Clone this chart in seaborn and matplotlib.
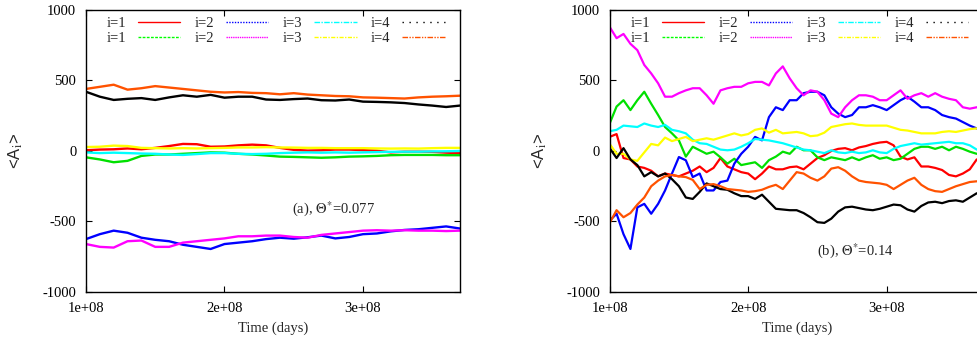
import numpy as np
import pandas as pd
import matplotlib
matplotlib.use("Agg")
import matplotlib.pyplot as plt
from matplotlib.lines import Line2D
import seaborn as sns

# ---------------- data ----------------
# time in units of 1e8 days
t_left = [1.0, 1.1, 1.2, 1.3, 1.4, 1.5, 1.6, 1.7, 1.8, 1.9, 2.0, 2.1, 2.2, 2.3,
          2.4, 2.5, 2.6, 2.7, 2.8, 2.9, 3.0, 3.1, 3.2, 3.3, 3.4, 3.5, 3.6, 3.7]

a_red = [5, 10, 12, 18, 12, 22, 35, 50, 48, 30, 32, 40, 45, 40,
         22, 8, 3, 5, 10, 10, 6, 2, -10, -5, -5, -6, -12, -15]
a_green = [-45, -60, -80, -70, -35, -25, -25, -20, -15, -10, -12, -20, -25, -32,
           -40, -42, -45, -48, -45, -40, -38, -35, -30, -28, -28, -28, -30, -30]
a_blue = [-625, -590, -565, -580, -615, -630, -640, -665, -680, -695, -660, -650, -640, -625,
          -615, -622, -612, -600, -620, -610, -590, -585, -570, -560, -555, -545, -535, -550]
a_magenta = [-660, -680, -685, -640, -635, -680, -680, -650, -640, -630, -620, -605, -605, -600,
             -600, -610, -615, -595, -585, -575, -565, -562, -565, -562, -565, -565, -568, -565]
a_cyan = [-10, -15, -12, -15, -18, -20, -25, -28, -22, -15, -15, -20, -22, -20,
          -15, -12, -10, -12, -10, -12, -10, -8, -6, -5, -5, -3, -2, 0]
a_yellow = [28, 30, 38, 35, 22, 20, 18, 20, 18, 20, 22, 25, 25, 27,
            25, 24, 22, 22, 20, 20, 20, 18, 17, 18, 17, 20, 22, 22]
a_black = [420, 385, 362, 370, 375, 362, 380, 395, 385, 398, 378, 385, 385, 365,
           362, 368, 372, 360, 358, 365, 350, 348, 345, 340, 330, 322, 312, 322]
a_orange = [440, 455, 470, 435, 445, 460, 450, 440, 430, 420, 415, 418, 412, 410,
            402, 410, 400, 395, 390, 388, 380, 378, 375, 372, 380, 385, 388, 392]

t_right = [1.00, 1.05, 1.10, 1.15, 1.20, 1.25, 1.30, 1.35, 1.40, 1.45, 1.50, 1.55, 1.60, 1.65,
           1.70, 1.75, 1.80, 1.85, 1.90, 1.95, 2.00, 2.05, 2.10, 2.15, 2.20, 2.25, 2.30, 2.35,
           2.40, 2.45, 2.50, 2.55, 2.60, 2.65, 2.70, 2.75, 2.80, 2.85, 2.90, 2.95, 3.00, 3.05,
           3.10, 3.15, 3.20, 3.25, 3.30, 3.35, 3.40, 3.45, 3.50, 3.55, 3.60, 3.65, 3.70]

b_red = [100, 120, -50, -60, -110, -120, -140, -180, -160, -170, -180, -160, -140, -110,
         -150, -120, -50, -110, -130, -150, -160, -200, -160, -110, -130, -130, -115, -110,
         -130, -90, -50, -30, 0, 15, 20, 5, 25, 35, 50, 60, 65, 40,
         -40, -60, -45, -110, -110, -120, -135, -170, -180, -160, -130, -60, -70]
b_green = [195, 315, 360, 290, 360, 420, 335, 255, 170, 125, 75, -40, 30, 5,
           -20, -5, -45, -90, -55, -100, -90, -80, -120, -65, -40, -5, -20, 30,
           5, 5, -45, -65, -45, -55, -65, -45, -65, -45, -30, -55, -45, -65,
           -55, -20, 15, 30, 30, 15, 30, 5, 30, 15, -5, -20, -10]
b_blue = [-495, -445, -590, -695, -400, -375, -445, -375, -280, -160, -43, -66, -185, -160,
          -280, -280, -220, -210, -90, -20, 30, 100, 75, 240, 310, 290, 360, 360,
          410, 420, 420, 395, 310, 265, 240, 255, 310, 310, 325, 310, 290, 325,
          360, 385, 350, 310, 310, 290, 255, 240, 230, 205, 180, 160, 170]
b_magenta = [880, 800, 830, 760, 715, 610, 550, 480, 385, 385, 410, 430, 445, 445,
             395, 335, 430, 445, 455, 455, 480, 490, 490, 465, 550, 600, 515, 445,
             395, 430, 420, 360, 265, 240, 310, 360, 395, 395, 385, 360, 360, 395,
             430, 370, 395, 410, 385, 410, 385, 370, 360, 310, 300, 310, 310]
b_cyan = [140, 150, 180, 175, 170, 195, 180, 170, 185, 150, 140, 125, 80, 55,
          50, 30, 10, 5, 10, 30, 55, 85, 80, 75, 65, 55, 40, 25,
          10, 5, -5, -15, 5, -10, -15, -5, -15, -10, 5, -10, -15, 15,
          35, 45, 55, 45, 50, 55, 60, 65, 55, 55, 40, 10, 5]
b_yellow = [50, -20, -20, -60, -70, -10, 50, 40, 95, 70, 85, 100, 70, 80,
            90, 80, 95, 110, 125, 110, 120, 150, 160, 130, 150, 125, 130, 135,
            125, 105, 110, 130, 170, 180, 190, 195, 185, 180, 180, 180, 180, 165,
            150, 145, 135, 125, 125, 125, 135, 140, 135, 145, 155, 160, 150]
b_black = [20, -50, 20, -60, -100, -180, -150, -180, -160, -200, -250, -330, -340, -290,
           -230, -250, -270, -275, -300, -320, -320, -340, -310, -360, -410, -415, -420, -420,
           -440, -470, -505, -510, -480, -430, -400, -395, -405, -415, -420, -410, -395, -380,
           -385, -415, -430, -390, -365, -360, -370, -355, -350, -360, -330, -300, -300]
b_orange = [-510, -420, -470, -440, -380, -330, -250, -210, -180, -170, -180, -185, -205, -270,
            -240, -235, -250, -270, -275, -280, -290, -285, -275, -255, -240, -270, -210, -150,
            -160, -190, -210, -180, -125, -115, -140, -180, -210, -220, -225, -230, -240, -270,
            -240, -210, -190, -240, -270, -285, -290, -270, -250, -235, -220, -215, -215]

series_names = ["s1", "s2", "s3", "s4", "s5", "s6", "s7", "s8"]
legend_labels = ["i=1", "i=1", "i=2", "i=2", "i=3", "i=3", "i=4", "i=4"]
colors = ["#ff0000", "#00e000", "#0000ff", "#ff00ff", "#00ffff", "#ffff00", "#000000", "#ff5200"]
legend_colors = ["#ff0000", "#00ff00", "#0000ff", "#ff00ff", "#00ffff", "#ffff00", "#000000", "#ff5200"]
styles = ["-", (0, (2, 1)), (0, (1, 1)), (0, (1, 0.6)), (0, (4, 1, 1, 1)),
          (0, (3, 1, 1, 1)), (0, (1, 4)), (0, (4, 1, 1, 1, 1, 1))]

x_ticks = [1e8, 2e8, 3e8]
x_tick_labels = ["1e+08", "2e+08", "3e+08"]
y_ticks = [-1000, -500, 0, 500, 1000]
y_tick_labels = ["-1000", "-500", "0", "500", "1000"]
annot_a = r"(a), $\Theta^{*}$=0.077"
annot_b = r"(b), $\Theta^{*}$=0.14"

left_vals = [a_red, a_green, a_blue, a_magenta, a_cyan, a_yellow, a_black, a_orange]
right_vals = [b_red, b_green, b_blue, b_magenta, b_cyan, b_yellow, b_black, b_orange]


def to_frame(times, vals):
    rows = []
    for name, v in zip(series_names, vals):
        for t, y in zip(times, v):
            rows.append((t * 1e8, y, name))
    return pd.DataFrame(rows, columns=["time", "value", "series"])


df_left = to_frame(t_left, left_vals)
df_right = to_frame(t_right, right_vals)

# ---------------- style ----------------
sns.set_theme(style="ticks")
plt.rcParams["font.family"] = ["Liberation Serif", "DejaVu Serif"]
plt.rcParams["mathtext.fontset"] = "stix"
plt.rcParams["axes.unicode_minus"] = False

fig = plt.figure(figsize=(9.77, 3.44), dpi=100)
ax_a = fig.add_axes([0.0880, 0.1512, 0.3828, 0.8198])
ax_b = fig.add_axes([0.6240, 0.1512, 0.3828, 0.8198])

palette = dict(zip(series_names, colors))

for ax, df, annot, ann_xy, lw in [
    (ax_a, df_left, annot_a, (2.49e8, -411), 1.7),
    (ax_b, df_right, annot_b, (2.50e8, -707), 1.6),
]:
    sns.lineplot(data=df, x="time", y="value", hue="series", palette=palette,
                 hue_order=series_names, estimator=None, sort=False,
                 legend=False, linewidth=lw, ax=ax)
    ax.set_xlim(1e8, 3.7e8)
    ax.set_ylim(-1000, 1000)
    ax.set_xticks(x_ticks, labels=x_tick_labels)
    ax.set_yticks(y_ticks, labels=y_tick_labels)
    ax.tick_params(direction="in", length=4, width=0.8, top=True, right=True,
                   labelsize=10.5, pad=7, colors="black")
    for sp in ax.spines.values():
        sp.set_linewidth(1.0)
        sp.set_color("black")
    ax.set_xlabel("Time (days)", fontsize=10.5, labelpad=5)
    ax.set_ylabel(r"<A$_{\mathrm{i}}$>", fontsize=12,
                  family=["Liberation Sans", "DejaVu Sans"])
    ax.yaxis.set_label_coords(-0.163, 0.5)
    ax.text(ann_xy[0], ann_xy[1], annot, fontsize=10.5, ha="left", va="center")

    handles = [Line2D([], [], color=c, linestyle=s, linewidth=1.0)
               for c, s in zip(legend_colors, styles)]
    ax.legend(handles, legend_labels, ncol=4, loc="upper left",
              bbox_to_anchor=(0.036, 1.0), frameon=False, markerfirst=False,
              handlelength=2.9, handletextpad=0.8, columnspacing=1.0,
              labelspacing=0.12, borderpad=0.0, borderaxespad=0.5, fontsize=10.5)

fig.savefig("out.png", dpi=100)
